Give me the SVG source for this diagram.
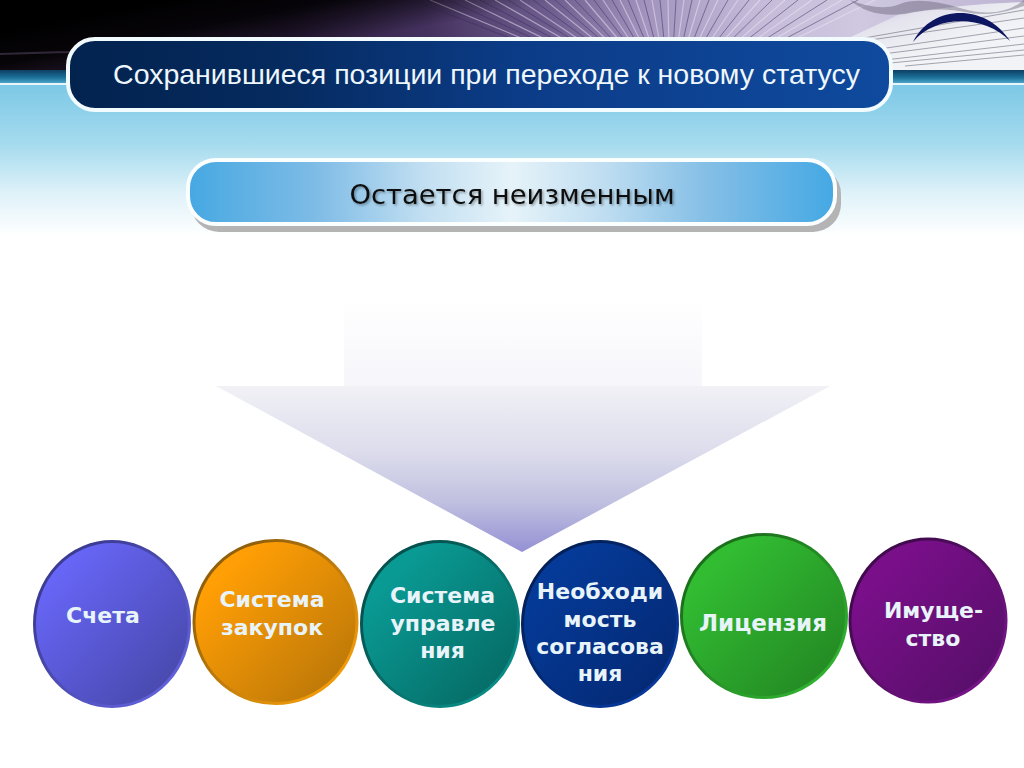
<svg xmlns="http://www.w3.org/2000/svg" width="1024" height="768" viewBox="0 0 1024 768">
<defs>
<linearGradient id="sky" x1="0" y1="0" x2="0" y2="1"><stop offset="0" stop-color="#7cc8e6"/><stop offset="0.4" stop-color="#a6dbee"/><stop offset="0.72" stop-color="#dff2f9"/><stop offset="1" stop-color="#fff"/></linearGradient>
<linearGradient id="banner" gradientUnits="userSpaceOnUse" x1="0" y1="0" x2="1024" y2="0"><stop offset="0" stop-color="#33223a"/><stop offset="0.28" stop-color="#2a1c3a"/><stop offset="0.42" stop-color="#45325f"/><stop offset="0.54" stop-color="#6f5e90"/><stop offset="0.63" stop-color="#a193bd"/><stop offset="0.74" stop-color="#c5bbd9"/><stop offset="0.84" stop-color="#cfc8e0"/><stop offset="1" stop-color="#bdb4d2"/></linearGradient>
<linearGradient id="darkTop" gradientUnits="userSpaceOnUse" x1="300" y1="-30" x2="315" y2="48"><stop offset="0" stop-color="#000"/><stop offset="0.45" stop-color="#000" stop-opacity="0.85"/><stop offset="1" stop-color="#000" stop-opacity="0"/></linearGradient>
<linearGradient id="darkFade" gradientUnits="userSpaceOnUse" x1="420" y1="0" x2="640" y2="0"><stop offset="0" stop-color="#fff"/><stop offset="1" stop-color="#000"/></linearGradient>
<mask id="leftOnly" maskUnits="userSpaceOnUse" x="0" y="0" width="1024" height="70"><rect width="1024" height="70" fill="url(#darkFade)"/></mask>
<linearGradient id="paper" gradientUnits="userSpaceOnUse" x1="880" y1="0" x2="900" y2="62"><stop offset="0" stop-color="#e4e2ee" stop-opacity="0"/><stop offset="0.4" stop-color="#e8e8f0" stop-opacity=".9"/><stop offset="1" stop-color="#f2f3f6"/></linearGradient>
<linearGradient id="band" x1="0" y1="0" x2="0" y2="1"><stop offset="0" stop-color="#0f3f63"/><stop offset="0.55" stop-color="#1a6d96"/><stop offset="1" stop-color="#4aa4c8"/></linearGradient>
<linearGradient id="title" x1="0" y1="0" x2="1" y2="0"><stop offset="0" stop-color="#03234f"/><stop offset="0.25" stop-color="#052a5e"/><stop offset="0.55" stop-color="#0c3c88"/><stop offset="1" stop-color="#0f4a9e"/></linearGradient>
<linearGradient id="pill" x1="0" y1="0" x2="1" y2="0"><stop offset="0" stop-color="#46a8e2"/><stop offset="0.2" stop-color="#7fbce6"/><stop offset="0.36" stop-color="#c0def1"/><stop offset="0.5" stop-color="#e6f3f9"/><stop offset="0.64" stop-color="#c0def1"/><stop offset="0.8" stop-color="#85bfe6"/><stop offset="1" stop-color="#44a8e4"/></linearGradient>
<linearGradient id="shaft" x1="0" y1="0" x2="0" y2="1"><stop offset="0" stop-color="#fff"/><stop offset="1" stop-color="#f6f6fb"/></linearGradient>
<linearGradient id="head" x1="0" y1="0" x2="0" y2="1"><stop offset="0" stop-color="#f1f1f6"/><stop offset="0.4" stop-color="#dcdcec"/><stop offset="0.7" stop-color="#c0c0e0"/><stop offset="1" stop-color="#9490d4"/></linearGradient>
<linearGradient id="c1" x1="0" y1="0" x2="1" y2="1"><stop offset="0.15" stop-color="#6866f8"/><stop offset="0.85" stop-color="#4a4ab0"/></linearGradient>
<linearGradient id="c2" x1="0" y1="0" x2="1" y2="1"><stop offset="0.2" stop-color="#ff9e05"/><stop offset="0.85" stop-color="#c07a08"/></linearGradient>
<linearGradient id="c3" x1="0" y1="0" x2="1" y2="1"><stop offset="0.2" stop-color="#0a9a94"/><stop offset="0.85" stop-color="#066e68"/></linearGradient>
<linearGradient id="c4" x1="0" y1="0" x2="1" y2="1"><stop offset="0.2" stop-color="#053a98"/><stop offset="0.85" stop-color="#042a76"/></linearGradient>
<linearGradient id="c5" x1="0" y1="0" x2="1" y2="1"><stop offset="0.2" stop-color="#32bc32"/><stop offset="0.85" stop-color="#248c24"/></linearGradient>
<linearGradient id="c6" x1="0" y1="0" x2="1" y2="1"><stop offset="0.2" stop-color="#7a0f8a"/><stop offset="0.85" stop-color="#5a0f6c"/></linearGradient>
<linearGradient id="r1" x1="0" y1="0" x2="1" y2="1"><stop offset="0.2" stop-color="#3c3c94"/><stop offset="0.85" stop-color="#6060d8"/></linearGradient>
<linearGradient id="r2" x1="0" y1="0" x2="1" y2="1"><stop offset="0.2" stop-color="#91600c"/><stop offset="0.85" stop-color="#f09a0a"/></linearGradient>
<linearGradient id="r3" x1="0" y1="0" x2="1" y2="1"><stop offset="0.2" stop-color="#05514e"/><stop offset="0.85" stop-color="#0a8c86"/></linearGradient>
<linearGradient id="r4" x1="0" y1="0" x2="1" y2="1"><stop offset="0.2" stop-color="#032058"/><stop offset="0.85" stop-color="#08389a"/></linearGradient>
<linearGradient id="r5" x1="0" y1="0" x2="1" y2="1"><stop offset="0.2" stop-color="#1c701c"/><stop offset="0.85" stop-color="#30b030"/></linearGradient>
<linearGradient id="r6" x1="0" y1="0" x2="1" y2="1"><stop offset="0.2" stop-color="#400a4c"/><stop offset="0.85" stop-color="#761488"/></linearGradient>
<filter id="soft" x="-5%" y="-20%" width="110%" height="140%"><feDropShadow dx="1.500" dy="1.500" stdDeviation="0.800" flood-color="#000" flood-opacity="0.35"/></filter>
<filter id="blur1"><feGaussianBlur stdDeviation="0.500"/></filter>
</defs>
<style>
.label{font-family:"DejaVu Sans",Verdana,sans-serif;font-weight:700;font-size:22px;fill:#e8f4fa;text-anchor:middle}
.ring{stroke-width:3}
.fan{stroke:#efeaf8;stroke-opacity:.5;stroke-width:1.200;fill:none}
.fand{stroke:#3a2c58;stroke-opacity:.5;stroke-width:1;fill:none}
.thin{stroke:#4a4a5c;stroke-opacity:.6;stroke-width:.8;fill:none}
</style>
<rect width="1024" height="768" fill="#fff"/>
<rect y="84" width="1024" height="152" fill="url(#sky)"/>
<g id="header-art">
<rect width="1024" height="70" fill="url(#banner)"/>
<g filter="url(#blur1)">
<path class="fan" d="M670 100L430 0M670 100L465 0M670 100L495 0M670 100L520 0M670 100L545 0M670 100L565 0M670 100L585 0M670 100L603 0M670 100L620 0M670 100L636 0M670 100L652 0M670 100L668 0M670 100L684 0M670 100L700 0M670 100L718 0M670 100L738 0M670 100L760 0M670 100L785 0M670 100L812 0M670 100L842 0M670 100L875 0"/>
<path class="fand" d="M670 100L412 0M670 100L448 0M670 100L480 0M670 100L508 0M670 100L533 0M670 100L555 0M670 100L575 0M670 100L594 0M670 100L612 0M670 100L628 0M670 100L644 0M670 100L660 0M670 100L676 0M670 100L692 0M670 100L709 0M670 100L728 0M670 100L749 0M670 100L772 0M670 100L798 0M670 100L827 0M670 100L858 0"/>
</g>
<rect width="1024" height="70" fill="url(#darkTop)" mask="url(#leftOnly)"/>
<path d="M0 54Q100 50 200 53" stroke="#5a4a68" stroke-width="2" fill="none" opacity=".5"/>
<path d="M780 70L900 14Q960 4 1024 2V70Z" fill="url(#paper)"/>
<path d="M850 0Q880 12 900 4T960 8T1024 0V6Q990 18 965 12T905 14Q870 18 850 0Z" fill="#4a4458" opacity=".35"/>
<path class="thin" d="M790 62L1024 28M820 62L1024 36M850 64L1024 44M880 64L1024 50M905 66L1024 55M800 50L1024 18M830 44L1024 10"/>
</g>
<g id="band">
<rect y="70" width="1024" height="13" fill="url(#band)"/>
<rect y="83" width="1024" height="2" fill="#e8f6fb"/>
</g>
<path id="logo-arc" d="M913 42C932 4 986 3 1010 41C985 15 936 14 913 42Z" fill="#0d1660"/>
<g id="title-node">
<rect x="68" y="39" width="823" height="71" rx="27" fill="url(#title)" stroke="#f2fbfe" stroke-width="4"/>
<text x="486.500" y="84" font-family="'Liberation Sans',Arial,sans-serif" font-size="28.500" fill="#eef7fb" text-anchor="middle">Сохранившиеся позиции при переходе к новому статусу</text>
</g>
<g id="subtitle-node">
<rect x="191" y="166" width="650" height="66" rx="28" fill="#b4b4b4"/>
<rect x="188" y="160" width="647" height="64" rx="28" fill="url(#pill)" stroke="#fbfeff" stroke-width="4"/>
<text x="512" y="204" font-family="'DejaVu Sans',Verdana,sans-serif" font-size="27.400" fill="#111" text-anchor="middle" filter="url(#soft)">Остается неизменным</text>
</g>
<g id="connectors">
<path id="arrow" d="M344 298H702V386H344Z" fill="url(#shaft)"/>
<path d="M216 386H830L522 552Z" fill="url(#head)"/>
</g>
<g id="n1"><ellipse class="ring" cx="112" cy="624" rx="77.500" ry="82.500" fill="url(#c1)" stroke="url(#r1)"/><text class="label" x="103" y="623">Счета</text></g>
<g id="n2"><ellipse class="ring" cx="275.500" cy="622" rx="81.500" ry="81.500" fill="url(#c2)" stroke="url(#r2)"/><text class="label" x="272" y="607">Система</text><text class="label" x="272" y="635">закупок</text></g>
<g id="n3"><ellipse class="ring" cx="440" cy="624" rx="78.500" ry="82.500" fill="url(#c3)" stroke="url(#r3)"/><text class="label" x="442.500" y="603">Система</text><text class="label" x="443" y="631">управле</text><text class="label" x="442.500" y="658">ния</text></g>
<g id="n4"><ellipse class="ring" cx="600" cy="624" rx="77.500" ry="82.500" fill="url(#c4)" stroke="url(#r4)"/><text class="label" x="600" y="599">Необходи</text><text class="label" x="600" y="627">мость</text><text class="label" x="600" y="654">согласова</text><text class="label" x="600" y="681">ния</text></g>
<g id="n5"><ellipse class="ring" cx="764" cy="616" rx="82.500" ry="81.500" fill="url(#c5)" stroke="url(#r5)"/><text class="label" x="763" y="631" style="font-size:23px">Лицензия</text></g>
<g id="n6"><ellipse class="ring" cx="928" cy="620.500" rx="78" ry="81.500" fill="url(#c6)" stroke="url(#r6)"/><text class="label" x="933.500" y="618">Имуще-</text><text class="label" x="933" y="646">ство</text></g>
</svg>
